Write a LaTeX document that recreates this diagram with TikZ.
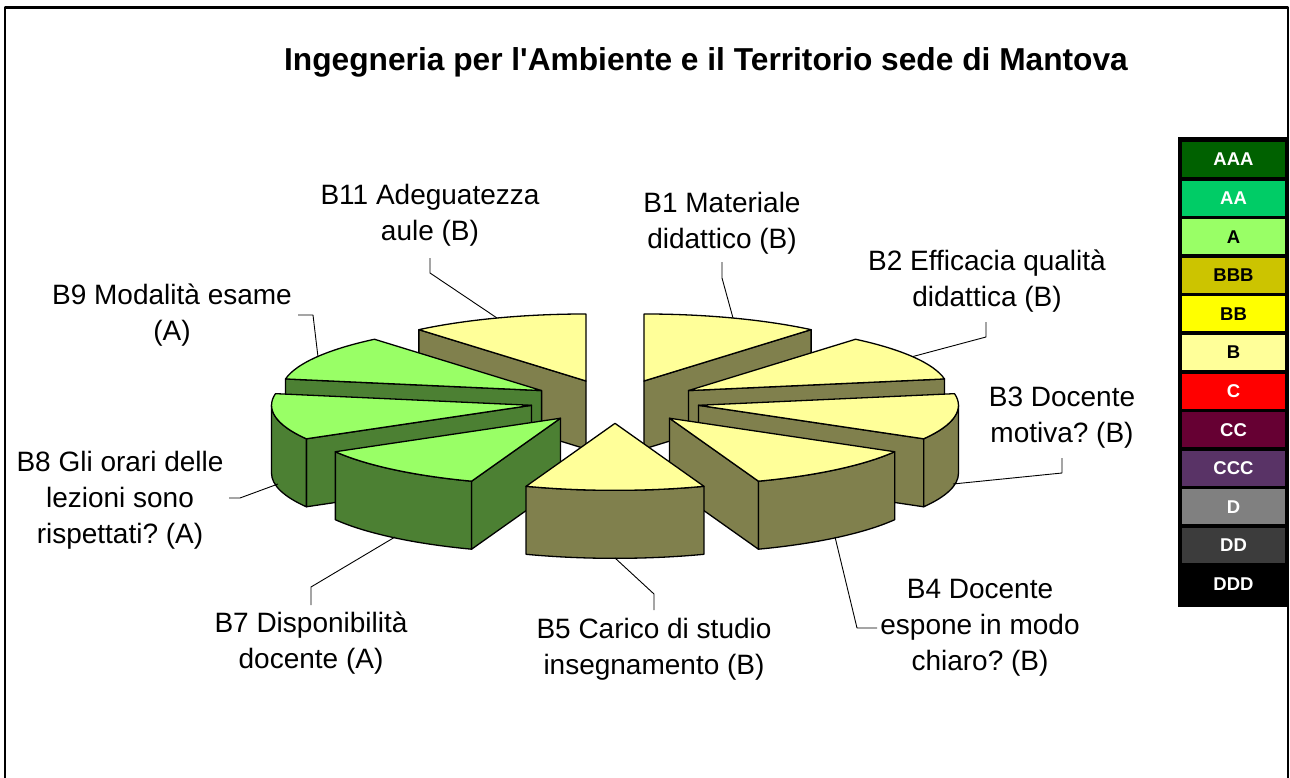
\documentclass[tikz,border=0pt]{standalone}
\usepackage{fontspec}
\setmainfont{Liberation Sans}[Ligatures={TeX,CommonOff}]
\frenchspacing

\definecolor{topB}{RGB}{255,255,153}
\definecolor{sideB}{RGB}{128,128,77}
\definecolor{topA}{RGB}{153,255,102}
\definecolor{sideA}{RGB}{76,128,51}
\definecolor{lgAAA}{RGB}{0,97,0}
\definecolor{lgAA}{RGB}{0,204,102}
\definecolor{lgA}{RGB}{153,255,102}
\definecolor{lgBBB}{RGB}{204,196,0}
\definecolor{lgBB}{RGB}{255,255,0}
\definecolor{lgB}{RGB}{255,255,153}
\definecolor{lgC}{RGB}{255,0,0}
\definecolor{lgCC}{RGB}{102,0,51}
\definecolor{lgCCC}{RGB}{89,51,102}
\definecolor{lgD}{RGB}{128,128,128}
\definecolor{lgDD}{RGB}{60,60,60}
\definecolor{lgDDD}{RGB}{0,0,0}

% pieces of one slice, drawn round its apex
\newcommand{\pietop}[3]{\filldraw[pie,fill=#3] (0,0) -- (#1:260 and 67) arc[start angle=#1, end angle=#2, x radius=260, y radius=67] -- cycle;}
\newcommand{\piewall}[2]{\filldraw[pie,fill=#2] (0,0) -- (#1:260 and 67) -- ++(0,-68) -- (0,-68) -- cycle;}
\newcommand{\piefront}[3]{\filldraw[pie,fill=#3] (#1:260 and 67) arc[start angle=#1, end angle=#2, x radius=260, y radius=67] -- ++(0,-68) arc[start angle=#2, end angle=#1, x radius=260, y radius=67] -- cycle;}

\begin{document}
\begin{tikzpicture}[x=1pt, y=1pt, line join=round,
    pie/.style={line width=1.3pt},
    apex/.style={shift={({615+84.76*cos(#1)},{-401.5+21.84*sin(#1)})}},
    lbl/.style={align=center, inner sep=0pt, font=\fontsize{28}{36}\selectfont},
    leader/.style={line width=0.9pt},
    legcell/.style={minimum width=103pt, minimum height=35pt, inner sep=0pt, font=\fontsize{18.5}{20}\selectfont\bfseries}]
    \useasboundingbox (0,0) rectangle (1290,-778);
    \fill[white] (0,0) rectangle (1290,-778);
    \draw[line width=2.5pt] (5,-778) -- (5,-7.5) -- (1288,-7.5) -- (1288,-778);
    \node (title) at (706,-62) {\fontsize{31.7}{38}\selectfont\bfseries Ingegneria per l\textquotesingle Ambiente e il Territorio sede di Mantova};

    % slices, back to front
    \begin{scope}[apex=70]
        \piewall{50}{sideB} \pietop{50}{90}{topB}
    \end{scope}
    \begin{scope}[apex=110]
        \piewall{130}{sideB} \pietop{90}{130}{topB}
    \end{scope}
    \begin{scope}[apex=30]
        \piewall{10}{sideB} \pietop{10}{50}{topB}
    \end{scope}
    \begin{scope}[apex=150]
        \piewall{170}{sideA} \pietop{130}{170}{topA}
    \end{scope}
    \begin{scope}[apex=-10]
        \piewall{-30}{sideB} \piefront{-30}{0}{sideB} \pietop{-30}{10}{topB}
    \end{scope}
    \begin{scope}[apex=190]
        \piewall{210}{sideA} \piefront{180}{210}{sideA} \pietop{170}{210}{topA}
    \end{scope}
    \begin{scope}[apex=-50]
        \piewall{-70}{sideB} \piefront{-70}{-30}{sideB} \pietop{-70}{-30}{topB}
    \end{scope}
    \begin{scope}[apex=230]
        \piewall{250}{sideA} \piefront{210}{250}{sideA} \pietop{210}{250}{topA}
    \end{scope}
    \begin{scope}[apex=-90]
        \piefront{-110}{-70}{sideB} \pietop{-110}{-70}{topB}
    \end{scope}

    % labels
    \node[lbl] (l11) at (430,-215) {B11 Adeguatezza\\aule (B)};
    \node[lbl] (l1) at (722,-223) {B1 Materiale\\didattico (B)};
    \node[lbl] (l2) at (987,-281.5) {B2 Efficacia qualità\\didattica (B)};
    \node[lbl] (l9) at (172,-315.5) {B9 Modalità esame\\(A)};
    \node[lbl] (l3) at (1062,-418) {B3 Docente\\motiva? (B)};
    \node[lbl] (l8) at (120,-500) {B8 Gli orari delle\\lezioni sono\\rispettati? (A)};
    \node[lbl] (l7) at (311,-643) {B7 Disponibilità\\docente (A)};
    \node[lbl] (l5) at (654,-649.5) {B5 Carico di studio\\insegnamento (B)};
    \node[lbl] (l4) at (980,-627.5) {B4 Docente\\espone in modo\\chiaro? (B)};

    % leaders
    \coordinate (r11) at (497,-318);   \coordinate (k11) at (430,-273);
    \coordinate (r1) at (733,-318);    \coordinate (k1) at (722,-278);
    \coordinate (r2) at (913,-356.5);  \coordinate (k2) at (986,-337);
    \coordinate (r9) at (318,-357);    \coordinate (k9) at (313,-315);
    \coordinate (r3) at (953,-484);    \coordinate (k3) at (1062,-473);
    \coordinate (r8) at (278,-484);    \coordinate (k8) at (240,-498);
    \coordinate (r7) at (395,-537);    \coordinate (k7) at (311,-587);
    \coordinate (r5) at (615,-558);    \coordinate (k5) at (654,-594);
    \coordinate (r4) at (835,-537);    \coordinate (k4) at (857,-628);
    \draw[leader] (r11) -- (k11) -- (430,-258);
    \draw[leader] (r1) -- (k1) -- (722,-262);
    \draw[leader] (r2) -- (k2) -- (986,-322);
    \draw[leader] (r9) -- (k9) -- (298,-315);
    \draw[leader] (r3) -- (k3) -- (1062,-458);
    \draw[leader] (r8) -- (k8) -- (229,-498);
    \draw[leader] (r7) -- (k7) -- (311,-605);
    \draw[leader] (r5) -- (k5) -- (654,-610);
    \draw[leader] (r4) -- (k4) -- (877,-628);

    % legend
    \fill[black] (1178,-137) rectangle (1289,-607);
    \foreach \lab/\txt [count=\i from 0] in {AAA/white, AA/white, A/black, BBB/black, BB/black, B/black,
        C/white, CC/white, CCC/white, D/white, DD/white, DDD/white}
        \node[legcell, fill=lg\lab, text=\txt] (lg\lab) at (1233.5,{-159.5-38.6*\i}) {\lab};
\end{tikzpicture}
\end{document}
